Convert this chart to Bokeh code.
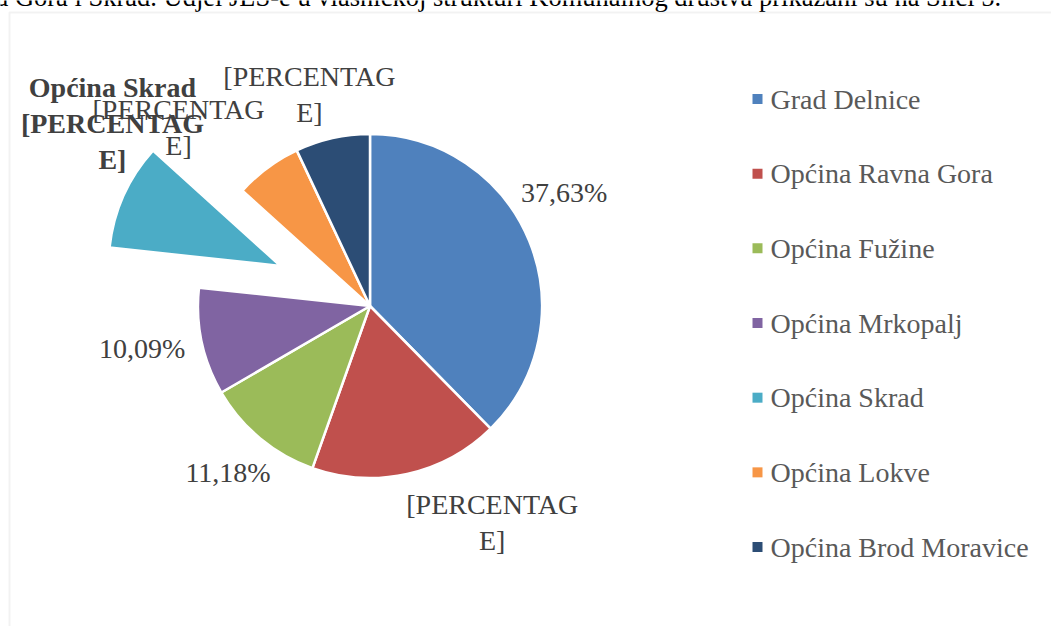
import math
from bokeh.plotting import figure
from bokeh.models import ColumnDataSource, Range1d, BoxAnnotation
from bokeh.core.properties import value
from bokeh.embed import file_html
from bokeh.resources import INLINE

# ---------------- data ----------------
categories = ["Grad Delnice", "Općina Ravna Gora", "Općina Fužine", "Općina Mrkopalj",
              "Općina Skrad", "Općina Lokve", "Općina Brod Moravice"]
shares = [37.63, 17.80, 11.18, 10.09, 10.00, 6.30, 7.00]
label_texts = ["37,63%", "[PERCENTAG\nE]", "11,18%", "10,09%",
               "Općina Skrad\n[PERCENTAG\nE]", "[PERCENTAG\nE]", "[PERCENTAG\nE]"]
heading = "a Gora i Skrad. Udjel JLS-e u vlasničkoj strukturi Komunalnog društva prikazani su na Slici 5."

# ---------------- style / layout ----------------
colors = ["#4F81BD", "#C0504D", "#9BBB59", "#8064A2", "#4BACC6", "#F79646", "#2C4D75"]
W, H = 1051, 626          # figure size
OX, OY = 0, 0             # figure position in the picture


def X(px):                # picture px -> data x
    return px - OX


def Y(py):                # picture px (from top) -> data y (up)
    return H - (py - OY)


CX, CY, R = 369.5, 305.5, 172          # pie centre (picture px) and radius
explode = [0, 0, 0, 0, 98, 0, 0]       # px offset of exploded slice
label_angle = [59.7, 150.6, 220.5, 259.4, 305.3, 313.0, 344.0]   # deg clockwise from top
label_dist = [224.8, 249.0, 218.6, 231.7, 315.6, 261.8, 220.0]
label_style = ["normal", "normal", "normal", "normal", "bold", "normal", "normal"]
LEG_X, LEG_Y0, LEG_STEP = 757, 98.5, 74.67  # legend square centre / row pitch

total = sum(shares)
starts, ends, xs, ys = [], [], [], []
cum = 0.0
for s, e in zip(shares, explode):
    a0 = cum / total * 360.0
    cum += s
    a1 = cum / total * 360.0
    mid = math.radians((a0 + a1) / 2)
    starts.append(math.radians(90 - a0))
    ends.append(math.radians(90 - a1))
    xs.append(X(CX) + e * math.sin(mid))
    ys.append(Y(CY) + e * math.cos(mid))

src = ColumnDataSource(dict(x=xs, y=ys, start=starts, end=ends, color=colors, name=categories))

lx = [X(CX) + d * math.sin(math.radians(a)) for a, d in zip(label_angle, label_dist)]
ly = [Y(CY) + d * math.cos(math.radians(a)) for a, d in zip(label_angle, label_dist)]
lsrc = ColumnDataSource(dict(x=lx, y=ly, text=label_texts, style=label_style))

leg_y = [Y(LEG_Y0 + i * LEG_STEP) for i in range(len(categories))]
legsrc = ColumnDataSource(dict(sx=[X(LEG_X)] * len(categories), tx=[X(LEG_X + 13)] * len(categories),
                               y=leg_y, color=colors, name=categories))

p = figure(width=W, height=H, x_range=Range1d(0, W), y_range=Range1d(0, H),
           output_backend="svg", toolbar_location=None, min_border=0,
           x_axis_type=None, y_axis_type=None, outline_line_color=None)
p.grid.visible = False

# chart area border
p.add_layout(BoxAnnotation(left=X(9), right=W + 20, top=Y(12), bottom=-20,
                           fill_alpha=0, line_color="#D3D3D3", line_width=2))

# heading line of the document (cut at the top)
p.text(x=[X(-4)], y=[Y(-3.5)], text=[heading], text_font=value("Liberation Serif"),
       text_font_size="26.5px", text_baseline="middle", text_align="left",
       text_color="#000000")

p.wedge(x="x", y="y", radius=R, start_angle="start", end_angle="end",
        direction="clock", fill_color="color", line_color="white", line_width=2.5,
        source=src)

p.text(x="x", y="y", text="text", source=lsrc, text_font=value("Liberation Serif"),
       text_font_size="28px", text_font_style="style", text_align="center",
       text_baseline="middle", text_color="#404040", text_line_height=1.16)

# legend
p.scatter(x="sx", y="y", marker="square", size=10, fill_color="color", line_color=None,
          source=legsrc)
p.text(x="tx", y="y", text="name", source=legsrc, text_font=value("Liberation Serif"),
       text_font_size="28px", text_baseline="middle", text_align="left",
       text_color="#595959")

open("out.html", "w").write(file_html(p, INLINE))
